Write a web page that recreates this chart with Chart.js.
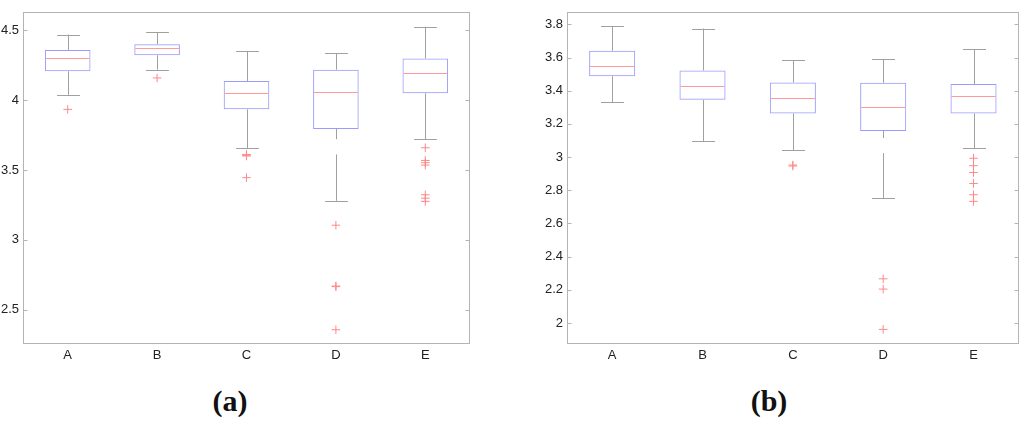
<!DOCTYPE html>
<html>
<head>
<meta charset="utf-8">
<script src="https://cdn.jsdelivr.net/npm/chart.js@4.4.1/dist/chart.umd.min.js"></script>
<style>
    html, body { margin: 0; padding: 0; background: #fff; }
    body { width: 1024px; height: 422px; position: relative; overflow: hidden; }
    .wrp { position: absolute; top: 0; height: 370px; }
    .caption { position: absolute; top: 384px; font: bold 30px "Liberation Serif", "Times New Roman", serif; color: #111; transform: translateX(-50%); }
</style>
</head>
<body>
<div class="wrp" style="left:0; width:480px;"><canvas id="chart_a"></canvas></div>
<div class="wrp" style="left:520px; width:504px;"><canvas id="chart_b"></canvas></div>
<div class="caption" style="left:230px;">(a)</div>
<div class="caption" style="left:769px;">(b)</div>
<script>
// categories shared by both panels
var aCategories = ['A', 'B', 'C', 'D', 'E'];

// panel (a)
var aLow  = [4.038, 4.218, 3.654, 3.279, 3.720];
var aQ1   = [4.207, 4.322, 3.934, 3.794, 4.050];
var aMed  = [4.300, 4.372, 4.050, 4.059, 4.197];
var aQ3   = [4.360, 4.400, 4.137, 4.218, 4.299];
var aHigh = [4.470, 4.489, 4.353, 4.336, 4.526];
var aGap  = [null, null, null, [3.720, 3.611], null];
var aOutliers = [
    [3.934],
    [4.159],
    [3.611, 3.605, 3.600, 3.445],
    [3.104, 2.668, 2.664, 2.355],
    [3.659, 3.568, 3.552, 3.535, 3.322, 3.298, 3.275]
];
var aTicks = [2.5, 3, 3.5, 4, 4.5];

// panel (b)
var bLow  = [3.331, 3.095, 3.043, 2.753, 3.053];
var bQ1   = [3.487, 3.345, 3.263, 3.158, 3.263];
var bMed  = [3.547, 3.430, 3.355, 3.300, 3.368];
var bQ3   = [3.641, 3.522, 3.450, 3.448, 3.440];
var bHigh = [3.788, 3.775, 3.584, 3.592, 3.652];
var bGap  = [null, null, null, [3.115, 3.024], null];
var bOutliers = [
    [],
    [],
    [2.952, 2.946],
    [2.266, 2.204, 1.961],
    [2.993, 2.948, 2.907, 2.841, 2.773, 2.733]
];
var bTicks = [2, 2.2, 2.4, 2.6, 2.8, 3, 3.2, 3.4, 3.6, 3.8];

var sColorBox = '#9a9aff';
var sColorMedian = '#ff9a9a';
var sColorWhisker = '#a0a0a0';
var sColorOutlier = '#ff8888';
var sColorFrame = '#b4b4b4';

Chart.defaults.font.family = '"Liberation Sans", Arial, sans-serif';
Chart.defaults.font.size = 13;
Chart.defaults.color = '#222';

function px(v) {
    return Math.round(v) + 0.5;
}

// whiskers, caps and medians drawn around the floating bars
var oBoxParts = {
    id: 'boxParts',
    beforeDatasetsDraw: function(chart, args, opts) {
        var ctx = chart.ctx, y = chart.scales.y;
        var aBars = chart.getDatasetMeta(0).data;
        ctx.save();
        ctx.strokeStyle = sColorWhisker;
        ctx.lineWidth = 1;
        aBars.forEach(function(oBar, i) {
            var x = px(oBar.x), hw = oBar.width / 4;
            var aSeg = [];
            if(opts.gap[i])
                aSeg = [[opts.high[i], opts.q3[i]], [opts.q1[i], opts.gap[i][0]], [opts.gap[i][1], opts.low[i]]];
            else
                aSeg = [[opts.high[i], opts.q3[i]], [opts.q1[i], opts.low[i]]];
            ctx.beginPath();
            aSeg.forEach(function(s) {
                ctx.moveTo(x, y.getPixelForValue(s[0]));
                ctx.lineTo(x, y.getPixelForValue(s[1]));
            });
            [opts.high[i], opts.low[i]].forEach(function(v) {
                var yy = px(y.getPixelForValue(v));
                ctx.moveTo(x - hw, yy);
                ctx.lineTo(x + hw, yy);
            });
            ctx.stroke();
        });
        ctx.restore();
    },
    afterDatasetsDraw: function(chart, args, opts) {
        var ctx = chart.ctx, y = chart.scales.y;
        var aBars = chart.getDatasetMeta(0).data;
        ctx.save();
        ctx.strokeStyle = sColorMedian;
        ctx.lineWidth = 1;
        ctx.beginPath();
        aBars.forEach(function(oBar, i) {
            var yy = px(y.getPixelForValue(opts.med[i]));
            ctx.moveTo(oBar.x - oBar.width / 2 + 1, yy);
            ctx.lineTo(oBar.x + oBar.width / 2 - 1, yy);
        });
        ctx.stroke();
        ctx.restore();
    },
    afterDraw: function(chart) {
        var ctx = chart.ctx, a = chart.chartArea, y = chart.scales.y;
        var l = px(a.left), r = px(a.right) - 1, t = px(a.top), b = px(a.bottom) - 1;
        ctx.save();
        ctx.strokeStyle = sColorFrame;
        ctx.lineWidth = 1;
        ctx.strokeRect(l, t, r - l, b - t);
        ctx.beginPath();
        y.ticks.forEach(function(oTick) {
            var yy = px(y.getPixelForValue(oTick.value));
            ctx.moveTo(l, yy);
            ctx.lineTo(l + 4, yy);
            ctx.moveTo(r, yy);
            ctx.lineTo(r - 4, yy);
        });
        ctx.stroke();
        ctx.restore();
    }
};

function makeBoxChart(sId, o) {
    var aBoxes = o.q1.map(function(v, i) {
        return [v, o.q3[i]];
    });
    var aPoints = [];
    o.outliers.forEach(function(a, i) {
        a.forEach(function(v) {
            aPoints.push({x: aCategories[i], y: v});
        });
    });

    return new Chart(document.getElementById(sId), {
        type: 'bar',
        data: {
            labels: aCategories,
            datasets: [{
                data: aBoxes,
                backgroundColor: 'rgba(0,0,0,0)',
                borderColor: sColorBox,
                borderWidth: 1,
                borderSkipped: false,
                categoryPercentage: 1,
                barPercentage: 0.51
            }, {
                type: 'scatter',
                data: aPoints,
                pointStyle: 'cross',
                radius: 4.3,
                borderColor: sColorOutlier,
                borderWidth: 1
            }]
        },
        options: {
            responsive: true,
            maintainAspectRatio: false,
            animation: false,
            layout: {padding: o.padding},
            plugins: {
                legend: {display: false},
                tooltip: {enabled: false},
                boxParts: {low: o.low, q1: o.q1, med: o.med, q3: o.q3, high: o.high, gap: o.gap}
            },
            scales: {
                x: {
                    type: 'category',
                    offset: true,
                    grid: {display: false, drawTicks: false},
                    border: {display: false},
                    ticks: {padding: 4},
                    afterFit: function(s) { s.height = 26; }
                },
                y: {
                    min: o.min,
                    max: o.max,
                    grid: {display: false, drawTicks: false},
                    border: {display: false},
                    ticks: {
                        padding: 4,
                        callback: function(v) { return String(+v.toFixed(2)); }
                    },
                    afterBuildTicks: function(s) {
                        s.ticks = o.ticks.map(function(v) { return {value: v}; });
                    },
                    afterFit: function(s) { s.width = o.axisWidth; }
                }
            }
        },
        plugins: [oBoxParts]
    });
}

makeBoxChart('chart_a', {
    low: aLow, q1: aQ1, med: aMed, q3: aQ3, high: aHigh, gap: aGap, outliers: aOutliers,
    ticks: aTicks, min: 2.253, max: 4.633,
    padding: {left: 0, top: 9, right: 10, bottom: 0}, axisWidth: 23
});

makeBoxChart('chart_b', {
    low: bLow, q1: bQ1, med: bMed, q3: bQ3, high: bHigh, gap: bGap, outliers: bOutliers,
    ticks: bTicks, min: 1.873, max: 3.876,
    padding: {left: 0, top: 1, right: 1, bottom: 0}, axisWidth: 47
});
</script>
</body>
</html>
